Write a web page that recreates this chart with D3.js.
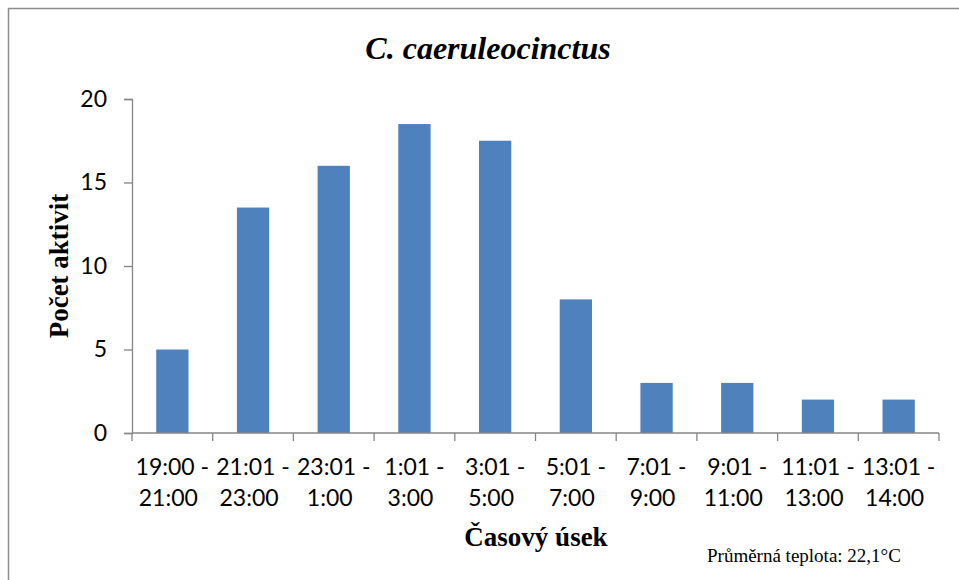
<!DOCTYPE html>
<html><head><meta charset="utf-8">
<script src="https://cdn.jsdelivr.net/npm/d3@7"></script>
<style>
body{margin:0;background:#fff;}
svg{display:block;}
</style></head>
<body>
<svg id="chart" width="959" height="580"></svg>
<script>
const categoryStart = ["19:00 -","21:01 -","23:01 -","1:01 -","3:01 -","5:01 -","7:01 -","9:01 -","11:01 -","13:01 -"];
const categoryEnd = ["21:00","23:00","1:00","3:00","5:00","7:00","9:00","11:00","13:00","14:00"];
const values = [5, 13.5, 16, 18.5, 17.5, 8, 3, 3, 2, 2];
const yTicks = [0, 5, 10, 15, 20];
const titleText = "C. caeruleocinctus";
const yLabel = "Počet aktivit";
const xLabel = "Časový úsek";
const noteText = "Průměrná teplota: 22,1°C";

const svg = d3.select("#chart");
const plotLeft = 132, plotRight = 939, plotTop = 99, plotBottom = 433;
const cats = categoryStart.map((d, i) => i);
const serif = "'Liberation Serif', 'DejaVu Serif', 'Times New Roman', serif";
const sans = "Lato, 'Open Sans', sans-serif";

// outer border
svg.append("rect").attr("x", 8.5).attr("y", 8.5).attr("width", 970).attr("height", 600)
  .attr("fill", "#fff").attr("stroke", "#8c8c8c").attr("stroke-width", 1.5);

const x = d3.scaleBand().domain(cats).range([plotLeft, plotRight]).paddingInner(0.6).paddingOuter(0.3);
const xOuter = d3.scaleBand().domain(cats).range([plotLeft, plotRight]);
const y = d3.scaleLinear().domain([0, 20]).range([plotBottom, plotTop]);

// bars
svg.append("g").selectAll("rect").data(values).join("rect")
  .attr("x", (d, i) => x(i)).attr("width", x.bandwidth())
  .attr("y", d => y(d)).attr("height", d => y(0) - y(d))
  .attr("fill", "#4f81bd");

// y axis
const yAxis = svg.append("g").attr("transform", `translate(${plotLeft},0)`)
  .call(d3.axisLeft(y).tickValues(yTicks).tickSize(8).tickPadding(17));
yAxis.select(".domain").attr("stroke", "#868686").attr("stroke-width", 1.3);
yAxis.selectAll(".tick line").attr("stroke", "#868686").attr("stroke-width", 1.3);
yAxis.selectAll(".tick text").attr("font-family", sans)
  .attr("font-size", 23).attr("fill", "#000");

// x axis
const xAxisG = svg.append("g").attr("transform", `translate(0,${plotBottom})`);
xAxisG.append("line").attr("x1", plotLeft).attr("x2", plotRight).attr("y1", 0).attr("y2", 0)
  .attr("stroke", "#868686").attr("stroke-width", 1.3);
const tickPos = cats.map(i => xOuter(i)).concat([plotRight]);
xAxisG.selectAll("line.tk").data(tickPos).join("line").attr("class", "tk")
  .attr("x1", d => d).attr("x2", d => d).attr("y1", 0).attr("y2", 8)
  .attr("stroke", "#868686").attr("stroke-width", 1.3);
const labels = xAxisG.selectAll("text.cl").data(cats).join("text").attr("class", "cl")
  .attr("text-anchor", "middle")
  .attr("font-family", sans).attr("font-size", 23).attr("fill", "#000");
labels.append("tspan").attr("x", i => xOuter(i) + xOuter.bandwidth() / 2).attr("y", 42).text(i => categoryStart[i]);
labels.append("tspan").attr("x", i => xOuter(i) + xOuter.bandwidth() / 2 - 4).attr("y", 73).text(i => categoryEnd[i]);

// title
svg.append("text").attr("x", 488).attr("y", 59).attr("text-anchor", "middle")
  .attr("font-family", serif)
  .attr("font-weight", "bold").attr("font-style", "italic").attr("font-size", 32)
  .text(titleText);

// y label
svg.append("text").attr("transform", "translate(68,266) rotate(-90)").attr("text-anchor", "middle")
  .attr("font-family", serif)
  .attr("font-weight", "bold").attr("font-size", 27).text(yLabel);

// x label
svg.append("text").attr("x", 536).attr("y", 546).attr("text-anchor", "middle")
  .attr("font-family", serif)
  .attr("font-weight", "bold").attr("font-size", 27).text(xLabel);

// note
svg.append("text").attr("x", 707).attr("y", 562)
  .attr("font-family", serif)
  .attr("font-size", 19).text(noteText);
</script>
</body></html>
